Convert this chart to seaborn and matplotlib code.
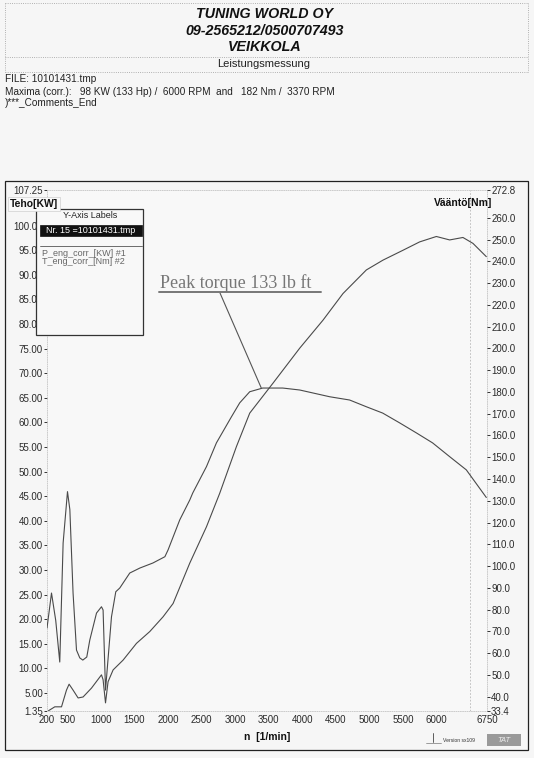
import pandas as pd
import matplotlib.pyplot as plt
import seaborn as sns
from matplotlib.patches import Rectangle
from matplotlib.lines import Line2D

# values (run 10101431.tmp)
power_rpm = [216, 316, 416, 490, 529, 588, 663, 737, 862, 1011, 1035, 1071, 1109, 1184,
             1333, 1532, 1730, 1928, 2077, 2325, 2574, 2771, 3020, 3218, 3565, 3962,
             4309, 4606, 4954, 5202, 5499, 5747, 5996, 6194, 6392, 6541, 6740]
power_kw = [1.35, 2.2, 2.2, 5.6, 6.8, 5.6, 4.0, 4.2, 6.0, 8.7, 7.7, 3.0, 7.3, 9.7,
            11.7, 15.1, 17.5, 20.5, 23.2, 31.4, 38.8, 45.6, 55.1, 61.9, 68.0, 75.1,
            80.8, 86.2, 91.0, 93.0, 95.0, 96.7, 97.8, 97.1, 97.6, 96.4, 93.7]

torque_rpm = [200, 267, 330, 390, 440, 505, 540, 588, 639, 688, 733, 792, 837, 937,
              1011, 1035, 1071, 1160, 1224, 1283, 1432, 1583, 1776, 1955, 2002, 2176,
              2326, 2370, 2574, 2722, 2946, 3069, 3218, 3411, 3709, 3962, 4408, 4705,
              4954, 5197, 5449, 5698, 5940, 6193, 6442, 6740]
torque_nm = [71.5, 87.6, 75.0, 55.9, 110.6, 134.2, 126.0, 87.6, 61.4, 57.8, 56.8, 58.2,
             66.0, 78.4, 81.3, 79.8, 43.0, 76.7, 88.2, 89.9, 96.8, 99.1, 101.4, 104.3,
             107.4, 121.2, 130.4, 133.6, 145.7, 156.6, 168.6, 175.0, 180.1, 181.8, 181.8,
             180.9, 177.8, 176.3, 173.2, 170.3, 165.8, 161.2, 156.6, 150.3, 144.2, 131.5]

rpm_ticks = [200, 500, 1000, 1500, 2000, 2500, 3000, 3500, 4000, 4500, 5000, 5500, 6000, 6750]
rpm_grid = [500, 1000, 1500, 2000, 2500, 3000, 3500, 4000, 4500, 5000, 5500, 6000, 6500]
kw_ticks = [1.35] + list(range(5, 101, 5)) + [107.25]
kw_grid = list(range(5, 101, 5))
nm_ticks = [33.4] + list(range(40, 261, 10)) + [272.8]

W, H = 534, 758
INK = '#4a4a4a'


def fx(x):
    return x / W


def fy(y):
    return 1 - y / H


def main():
    sns.set_style('white')
    plt.rcParams['font.family'] = ['Liberation Sans', 'DejaVu Sans']

    fig = plt.figure(figsize=(W / 100, H / 100), dpi=100, facecolor='#f6f6f6')
    ax = fig.add_axes([fx(47), fy(711), fx(487) - fx(47), fy(190) - fy(711)])
    ax.set_facecolor('#f8f8f8')

    power = pd.DataFrame({'rpm': power_rpm, 'kw': power_kw})
    torque = pd.DataFrame({'rpm': torque_rpm, 'nm': torque_nm})

    sns.lineplot(data=power, x='rpm', y='kw', ax=ax, color=INK, lw=0.8, estimator=None)
    ax.set_xlim(200, 6750)
    ax.set_ylim(1.35, 107.25)
    ax.set_xticks(rpm_ticks)
    ax.set_xticks(rpm_grid, minor=True)
    ax.set_yticks(kw_ticks)
    ax.set_yticks(kw_grid, minor=True)
    ax.set_yticklabels([f'{v:.2f}' for v in kw_ticks])
    ax.set_xticklabels([str(v) for v in rpm_ticks])
    ax.grid(which='minor', ls=(0, (2, 2)), color='#b8b8b8', lw=0.6)
    ax.grid(which='major', visible=False)
    ax.tick_params(which='minor', length=0)
    ax.tick_params(which='major', direction='out', length=2.2, width=0.7, color='#333',
                   labelsize=7, labelcolor='#2a2a2a', pad=0.8)
    ax.set_xlabel('')
    ax.set_ylabel('')
    for s in ax.spines.values():
        s.set_color('#c4c4c4')
        s.set_linestyle(':')
        s.set_linewidth(0.6)

    ax2 = ax.twinx()
    sns.lineplot(data=torque, x='rpm', y='nm', ax=ax2, color=INK, lw=0.8, estimator=None)
    ax2.set_ylim(33.4, 272.8)
    ax2.set_yticks(nm_ticks)
    ax2.set_yticklabels([f'{v:.1f}' for v in nm_ticks])
    ax2.tick_params(direction='out', length=2.2, width=0.7, color='#333',
                    labelsize=7, labelcolor='#2a2a2a', pad=0.8)
    ax2.set_ylabel('')
    for s in ax2.spines.values():
        s.set_visible(False)

    # header block
    for y in (3, 57, 72):
        fig.add_artist(Line2D([fx(5), fx(528)], [fy(y), fy(y)], color='#9a9a9a', lw=0.6, ls=':'))
    for x in (5, 528):
        fig.add_artist(Line2D([fx(x), fx(x)], [fy(3), fy(72)], color='#9a9a9a', lw=0.6, ls=':'))
    for y, txt in ((14, 'TUNING WORLD OY'), (31, '09-2565212/0500707493'), (47, 'VEIKKOLA')):
        fig.text(fx(265), fy(y), txt, ha='center', va='center', fontsize=10.3,
                 fontweight='bold', fontstyle='italic', color='#111')
    fig.text(fx(264), fy(64), 'Leistungsmessung', ha='center', va='center', fontsize=8, color='#222')
    fig.text(fx(5), fy(79), 'FILE: 10101431.tmp', ha='left', va='center', fontsize=7.2, color='#222')
    fig.text(fx(5), fy(92), 'Maxima (corr.):   98 KW (133 Hp) /  6000 RPM  and   182 Nm /  3370 RPM',
             ha='left', va='center', fontsize=7.2, color='#222')
    fig.text(fx(5), fy(103), ')***_Comments_End', ha='left', va='center', fontsize=7.2, color='#222')

    # chart frame
    fig.add_artist(Rectangle((fx(5), fy(750)), fx(528) - fx(5), fy(181) - fy(750),
                             fill=False, ec='#222', lw=0.9))

    # axis titles
    fig.text(fx(10), fy(204), 'Teho[KW]', ha='left', va='center', fontsize=7.5,
             fontweight='bold', color='#111',
             bbox=dict(boxstyle='square,pad=0.15', fc='#f8f8f8', ec='#cfcfcf', lw=0.5))
    fig.text(fx(492), fy(203), 'Vääntö[Nm]', ha='right', va='center', fontsize=7.5,
             fontweight='bold', color='#111')
    fig.text(fx(267), fy(737), 'n  [1/min]', ha='center', va='center', fontsize=7.5,
             fontweight='bold', color='#111')

    # legend window
    fig.add_artist(Rectangle((fx(36), fy(335)), fx(143) - fx(36), fy(209) - fy(335),
                             fc='#f8f8f8', ec='#333', lw=0.9))
    fig.text(fx(90), fy(215), 'Y-Axis Labels', ha='center', va='center', fontsize=6.5, color='#222')
    fig.add_artist(Rectangle((fx(40), fy(236)), fx(142) - fx(40), fy(225) - fy(236),
                             fc='#111', ec='#111', lw=0.5))
    fig.text(fx(91), fy(230.5), 'Nr. 15 =10101431.tmp', ha='center', va='center',
             fontsize=6.5, color='white')
    fig.add_artist(Line2D([fx(40), fx(142)], [fy(246), fy(246)], color='#555', lw=0.6))
    fig.text(fx(42), fy(253), 'P_eng_corr_[KW] #1', ha='left', va='center', fontsize=6.5, color='#666')
    fig.text(fx(42), fy(262), 'T_eng_corr_[Nm] #2', ha='left', va='center', fontsize=6.5, color='#666')

    # peak torque note
    fig.text(fx(160), fy(288), 'Peak torque 133 lb ft', ha='left', va='baseline', fontsize=13,
             family='Liberation Serif', color='#777')
    fig.add_artist(Line2D([fx(159), fx(321)], [fy(291.5), fy(291.5)], color='#777', lw=1.4))
    ax2.annotate('', xy=(3390, 181.8), xycoords='data',
                 xytext=(fx(220), fy(293)), textcoords='figure fraction',
                 arrowprops=dict(arrowstyle='-', color='#555', lw=0.8, shrinkA=0, shrinkB=0))

    # footer bits
    fig.add_artist(Line2D([fx(433), fx(433)], [fy(733), fy(742)], color='#444', lw=0.6))
    fig.add_artist(Line2D([fx(426), fx(441)], [fy(743), fy(743)], color='#777', lw=0.5))
    fig.text(fx(443), fy(741), 'Version sx109', ha='left', va='center', fontsize=3.6, color='#333')
    fig.add_artist(Rectangle((fx(487), fy(746)), fx(521) - fx(487), fy(734) - fy(746),
                             fc='#9a9a9a', ec='none'))
    fig.text(fx(504), fy(740), 'TAT', ha='center', va='center', fontsize=5.5,
             fontstyle='italic', color='#eeeeee')

    fig.savefig('out.png', dpi=100, facecolor=fig.get_facecolor())
    plt.close(fig)


if __name__ == '__main__':
    main()
